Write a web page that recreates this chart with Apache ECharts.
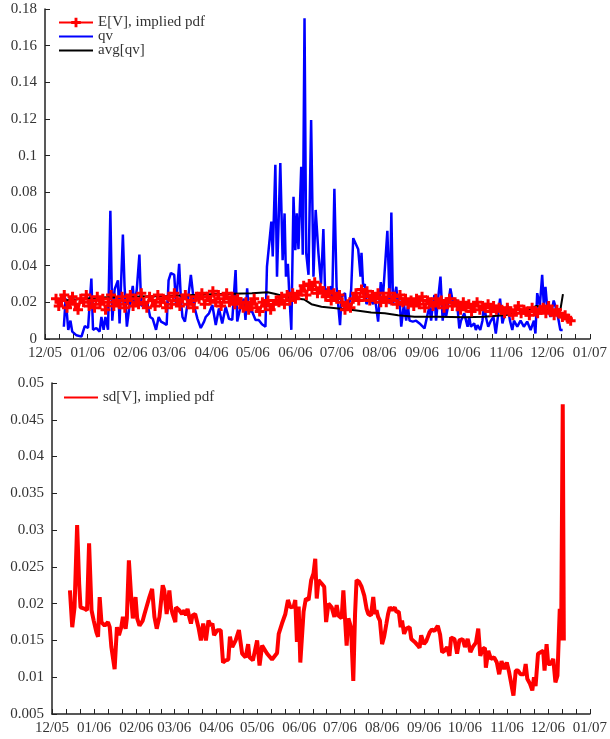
<!DOCTYPE html>
<html lang="en" style="height: 100%">
<head>
<meta charset="utf-8">
</head>
<body style="height: 100%; margin: 0; background: #fff">
<div id="container" style="width: 610px; height: 739px"></div>
<script src="https://cdn.jsdelivr.net/npm/echarts@6/dist/echarts.min.js"></script>
<script>
// x values are days counted from 2005-12-01
var monthLabels = ['12/05', '01/06', '02/06', '03/06', '04/06', '05/06', '06/06',
                   '07/06', '08/06', '09/06', '10/06', '11/06', '12/06', '01/07'];

// qv (blue) : [day, value]
var qv = [[13.7,.0067],[15.0,.022],[16.9,.005],[18.5,.010],[19.8,.004],[22.9,.002],[26.5,.0013],[28.9,.007],[31.3,.006],[33.7,.033],
  [34.9,.005],[37.3,.006],[39.7,.004],[41.0,.012],[42.6,.005],[43.9,.012],[45.8,.005],[47.5,.070],[48.9,.010],[50.6,.027],
  [53.0,.032],[54.2,.0085],[56.6,.057],[57.8,.029],[59.5,.0067],[61.4,.018],[63.8,.029],[65.0,.018],[66.7,.027],[68.6,.046],
  [69.9,.018],[71.5,.019],[73.0,.017],[74.6,.019],[76.4,.012],[78.3,.011],[80.7,.005],[82.6,.012],[84.3,.0095],[86.7,.0085],
  [88.4,.0076],[89.8,.032],[91.5,.036],[93.9,.035],[95.2,.019],[97.5,.041],[98.8,.021],[99.9,.012],[101.7,.0095],[103.5,.019],
  [106.0,.035],[107.2,.027],[108.4,.018],[110.8,.011],[113.2,.006],[115.6,.0095],[116.8,.012],[119.2,.014],[121.6,.0185],[124.1,.0076],
  [126.4,.0167],[128.8,.0085],[131.3,.0176],[133.7,.011],[136.1,.0104],[138.5,.0376],[139.7,.0095],[142.1,.0176],[144.5,.022],[145.7,.0104],
  [146.9,.0276],[148.1,.015],[150.5,.015],[153.0,.0104],[155.3,.0104],[157.7,.008],[160.2,.0067],[161.3,.0395],[164.5,.064],[165.5,.045],
  [167.4,.095],[168.6,.034],[171.0,.096],[172.7,.043],[174.1,.0685],[175.1,.034],[176.5,.041],[177.5,.025],[179.0,.005],[180.6,.0776],
  [181.9,.0485],[183.0,.0685],[184.2,.049],[186.2,.094],[187.3,.046],[188.6,.175],[189.8,.047],[191.5,.035],[193.4,.1195],[195.1,.034],
  [196.7,.0704],[198.7,.047],[200.6,.030],[202.3,.060],[203.5,.027],[205.9,.027],[207.9,.0285],[208.8,.023],[210.3,.082],[211.9,.0285],
  [214.4,.0076],[215.5,.023],[218.0,.025],[219.2,.016],[221.6,.021],[222.5,.027],[224.0,.055],[227.6,.049],[229.3,.034],[230.0,.047],
  [231.2,.0285],[232.4,.030],[233.6,.019],[236.1,.023],[238.4,.019],[239.7,.023],[242.1,.0095],[244.0,.031],[245.7,.024],[248.8,.059],
  [250.5,.019],[251.7,.069],[252.9,.019],[255.3,.0285],[256.5,.018],[257.7,.021],[258.9,.0067],[260.8,.019],[262.5,.010],[263.7,.0185],
  [264.9,.010],[267.3,.0095],[269.7,.010],[272.2,.0085],[275.8,.0058],[278.2,.014],[279.4,.0176],[280.6,.010],[281.8,.0185],[283.0,.024],
  [284.2,.010],[285.4,.020],[287.4,.034],[289.0,.010],[290.2,.020],[291.4,.012],[292.6,.0167],[294.6,.0276],[296.2,.021],[297.5,.020],
  [299.3,.021],[301.1,.0058],[302.3,.010],[303.5,.0095],[304.7,.014],[307.1,.0067],[308.3,.012],[309.5,.0067],[311.9,.0085],[313.1,.0049],
  [314.3,.0076],[316.3,.0049],[317.9,.010],[319.2,.0195],[320.4,.012],[322.1,.0067],[324.0,.010],[325.9,.012],[327.6,.003],[328.8,.010],
  [330.7,.022],[332.4,.0085],[333.6,.012],[336.0,.0185],[337.9,.010],[339.6,.0049],[340.8,.010],[343.2,.0067],[345.6,.010],[348.0,.0067],
  [350.4,.0095],[352.9,.0049],[355.3,.010],[356.4,.003],[357.7,.025],[359.6,.018],[361.3,.035],[362.5,.0185],[363.7,.0285],[364.9,.018],
  [367.3,.012],[369.7,.021],[371.6,.016],[373.3,.010],[374.5,.0049],[376.2,.0049]];

// avg[qv] (black) : [day, value]
var avgQv = [[13.0,.021],[39.7,.0227],[68.6,.0232],[90.3,.0235],[121.4,.0244],[150.3,.025],[161.8,.0255],[167.6,.0245],
  [174.9,.023],[184.2,.022],[188.6,.0215],[193.6,.019],[200.9,.0176],[213.2,.0167],[225.2,.0157],[237.0,.0145],[246.9,.014],
  [256.5,.013],[268.6,.0122],[285.4,.0122],[304.7,.0118],[319.2,.0122],[333.6,.013],[343.2,.014],[350.4,.0158],[357.2,.018],
  [361.3,.0173],[366.1,.0158],[370.9,.016],[374.5,.0158],[376.4,.0245]];

// E[V], implied pdf (red +) : one value every 2 days from day 8
var evStartDay = 8, evStepDays = 2;
var evVals = [
  .022,.018,.021,.024,.017,.020,.023,.019,.016,.022,.020,.024,.018,.021,.017,.023,.019,.022,.016,.020,.024,.018,.021,.019,.023,.017,
  .021,.024,.018,.022,.019,.025,.020,.017,.023,.021,.018,.024,.020,.022,.017,.023,.019,.025,.021,.018,.022,.024,.019,.021,.017,.023,
  .022,.025,.019,.023,.021,.026,.020,.024,.018,.022,.025,.020,.023,.019,.022,.020,
  .017,.020,.016,.019,.022,.017,.015,.020,.018,.021,.016,.019,.021,
  .020,.023,.019,.024,.021,.025,.022,.024,
  .026,.029,.024,.030,.027,.031,.025,.028,.026,
  .023,.026,.021,.025,.022,.024,.020,
  .016,.019,.017,
  .022,.025,.021,.027,.023,.026,.021,.024,.022,.025,.020,
  .023,.020,.025,.021,.023,.019,.024,.020,.022,.019,
  .021,.018,.022,.019,.023,.017,.021,.020,.018,.022,.019,.021,.017,.020,.022,.018,.020,
  .019,.016,.020,.017,.019,.015,.018,.020,.016,.018,.017,.019,.015,.018,.016,.017,
  .016,.014,.017,.015,.013,.016,.018,.014,.016,.015,.013,.017,.015,.014,.016,
  .017,.014,.018,.015,.013,.016,.014,.012,.013,.011,.010];

// sd[V], implied pdf (bottom) : [day, value]
var sdV = [[13.2,.0218],[14.9,.0168],[16.6,.0195],[18.5,.0307],[20.0,.0227],[21.0,.0195],[24.2,.0193],[25.8,.0191],[27.3,.0282],[29.1,.0191],
  [30.7,.0177],[32.7,.0161],[33.9,.0155],[35.1,.0209],[36.4,.0175],[38.8,.017],[41.2,.0175],[42.5,.0168],[43.7,.0141],[46.1,.0111],
  [47.8,.0168],[49.3,.0157],[51.0,.0168],[52.2,.0182],[54.2,.0166],[55.1,.018],[56.6,.0259],[58.3,.0209],[59.5,.018],[61.5,.0209],
  [62.7,.018],[64.4,.017],[66.8,.0177],[68.1,.0186],[69.3,.0184],[71.7,.0209],[73.7,.022],[75.4,.0182],[77.1,.0166],[79.1,.0182],
  [81.5,.0225],[82.7,.0218],[84.4,.0186],[86.4,.0218],[87.6,.0195],[88.8,.0186],[90.8,.0175],[91.3,.0195],[93.7,.0191],[95.7,.0186],
  [97.4,.0191],[98.6,.0184],[99.8,.0193],[101.0,.0182],[102.3,.0173],[103.4,.0184],[105.4,.0186],[107.8,.0168],[109.6,.015],[111.3,.0173],
  [113.3,.015],[115.2,.0177],[116.9,.017],[118.1,.0173],[119.3,.0157],[121.7,.0164],[124.2,.0164],[125.9,.012],[127.9,.0123],[129.8,.0124],
  [131.0,.0155],[132.7,.0141],[135.2,.015],[137.6,.0164],[138.9,.0166],[140.0,.0132],[142.5,.0127],[144.4,.0145],[145.4,.0127],[147.9,.0123],
  [151.0,.015],[152.8,.0116],[154.7,.0143],[158.4,.0132],[162.0,.0124],[165.7,.0133],[166.9,.0159],[169.3,.0173],[171.8,.0186],[173.7,.0205],
  [175.5,.0195],[177.9,.0196],[179.1,.0205],[180.3,.0148],[181.6,.0196],[182.8,.012],[185.2,.0189],[186.9,.0207],[188.9,.0205],[190.8,.0232],
  [192.5,.0241],[193.8,.0261],[194.9,.0207],[196.2,.0232],[198.6,.0227],[200.4,.0223],[201.8,.0175],[203.5,.020],[205.9,.0195],[207.9,.0182],
  [209.6,.0198],[210.8,.0184],[212.1,.0186],[213.2,.018],[214.5,.0218],[215.7,.018],[216.9,.0143],[218.2,.018],[220.1,.0168],[221.8,.0095],
  [223.1,.0186],[224.2,.0232],[226.0,.023],[227.9,.0223],[229.9,.0211],[231.6,.0193],[232.8,.0186],[234.8,.0184],[236.5,.0209],[237.7,.0186],
  [238.9,.0191],[240.1,.0182],[241.4,.0177],[243.0,.0145],[244.5,.0155],[246.2,.0173],[247.4,.0186],[248.7,.0195],[250.4,.0191],[252.3,.0195],
  [253.5,.0189],[255.3,.0189],[256.7,.0168],[257.7,.0177],[259.2,.0159],[260.8,.0166],[263.3,.0168],[264.5,.0152],[267.0,.0148],[269.4,.0143],
  [270.6,.014],[271.8,.0157],[273.8,.0145],[275.5,.0149],[278.0,.0161],[279.6,.0165],[281.6,.0163],[284.0,.017],[285.7,.0158],[287.2,.0134],
  [288.9,.0136],[290.9,.0141],[292.6,.0129],[293.8,.0154],[296.3,.0152],[298.2,.0132],[299.9,.015],[302.3,.0152],[304.0,.0141],[306.0,.0152],
  [308.0,.0134],[309.7,.0141],[312.1,.0147],[313.8,.0166],[315.3,.0129],[317.0,.0138],[318.7,.014],[319.4,.0113],[321.2,.0136],[323.1,.0125],
  [325.5,.0127],[327.5,.012],[329.2,.0104],[330.9,.0122],[332.9,.0111],[334.8,.012],[336.5,.0107],[337.7,.0095],[339.7,.0075],[341.4,.0109],
  [343.1,.0109],[345.0,.0104],[347.5,.0104],[348.7,.0118],[349.9,.0098],[351.9,.0091],[353.6,.0082],[354.8,.010],[356.0,.0088],[357.8,.0132],
  [359.7,.0134],[361.6,.0136],[362.6,.0109],[364.1,.0145],[365.3,.0118],[367.0,.0118],[369.0,.0125],[370.6,.0093],[372.1,.0102],[373.8,.0193],
  [374.8,.015],[376.0,.0471],[376.8,.015]];

// month starts and thirds of months, in days from 2005-12-01
var base = Date.UTC(2005, 11, 1);
var monthDays = monthLabels.map(function (_, i) {
    return (Date.UTC(2005, 11 + i, 1) - base) / 86400000;
});
var tickDays = [];
for (var i = 0; i < monthDays.length - 1; i++) {
    var len = monthDays[i + 1] - monthDays[i];
    tickDays.push(monthDays[i], monthDays[i] + len / 3, monthDays[i] + 2 * len / 3);
}
tickDays.push(monthDays[monthDays.length - 1]);

var evData = evVals.map(function (v, i) { return [evStartDay + i * evStepDays, v]; });

var FONT = 'Liberation Serif';
var AXIS_COLOR = '#222';
var TEXT_COLOR = '#333';
var PLUS = 'path://M0,3.5H10V6.5H0Z M3.5,0H6.5V10H3.5Z';

function xAxisFor(gridIndex) {
    return {
        type: 'value', gridIndex: gridIndex, min: 0, max: 396,
        splitLine: { show: false },
        axisLine: { onZero: false, lineStyle: { color: AXIS_COLOR, width: 1.5 } },
        axisTick: { inside: true, length: 5, customValues: tickDays, lineStyle: { color: AXIS_COLOR } },
        axisLabel: {
            customValues: monthDays,
            formatter: function (v) { return monthLabels[monthDays.indexOf(v)]; },
            color: TEXT_COLOR, fontFamily: FONT, fontSize: 15, margin: 7
        }
    };
}

function yAxisFor(gridIndex, min, max, interval) {
    return {
        type: 'value', gridIndex: gridIndex, min: min, max: max, interval: interval,
        splitLine: { show: false },
        axisLine: { show: true, onZero: false, lineStyle: { color: AXIS_COLOR, width: 1.5 } },
        axisTick: { show: true, inside: true, length: 5, lineStyle: { color: AXIS_COLOR } },
        axisLabel: { color: TEXT_COLOR, fontFamily: FONT, fontSize: 15, margin: 8 }
    };
}

var legendText = { fontFamily: FONT, fontSize: 15, color: TEXT_COLOR, lineHeight: 14 };
var noMarker = { opacity: 0 };

var myChart = echarts.init(document.getElementById('container'), null, { renderer: 'canvas' });
var option = {
    animation: false,
    backgroundColor: '#fff',
    grid: [
        { left: 45, right: 17, top: 9, height: 330 },
        { left: 52, right: 17, top: 383, height: 331 }
    ],
    legend: [
        {
            data: [
                { name: 'E[V], implied pdf' },
                { name: 'qv', itemStyle: noMarker },
                { name: 'avg[qv]', itemStyle: noMarker }
            ],
            orient: 'vertical', left: 58, top: 15, padding: 0,
            itemWidth: 34, itemHeight: 12, itemGap: -1,
            textStyle: legendText
        },
        {
            data: [{ name: 'sd[V], implied pdf', itemStyle: noMarker }],
            orient: 'vertical', left: 63, top: 390, padding: 0,
            itemWidth: 34, itemHeight: 12, itemGap: 0,
            textStyle: legendText
        }
    ],
    xAxis: [xAxisFor(0), xAxisFor(1)],
    yAxis: [yAxisFor(0, 0, 0.18, 0.02), yAxisFor(1, 0.005, 0.05, 0.005)],
    series: [
        {
            name: 'E[V], implied pdf', type: 'line', xAxisIndex: 0, yAxisIndex: 0,
            data: evData,
            symbol: PLUS, symbolSize: 10, showSymbol: true,
            lineStyle: { color: '#ff0000', width: 2.5 },
            itemStyle: { color: '#ff0000' }
        },
        {
            name: 'qv', type: 'line', xAxisIndex: 0, yAxisIndex: 0,
            data: qv, symbol: 'none',
            lineStyle: { color: '#0000ff', width: 2.5 },
            itemStyle: { color: '#0000ff' }
        },
        {
            name: 'avg[qv]', type: 'line', xAxisIndex: 0, yAxisIndex: 0,
            data: avgQv, symbol: 'none',
            lineStyle: { color: '#000000', width: 2 },
            itemStyle: { color: '#000000' }
        },
        {
            name: 'sd[V], implied pdf', type: 'line', xAxisIndex: 1, yAxisIndex: 1,
            data: sdV, symbol: 'none',
            lineStyle: { color: '#ff0000', width: 4 },
            itemStyle: { color: '#ff0000' }
        }
    ]
};
myChart.setOption(option);
window.addEventListener('resize', myChart.resize);
</script>
</body>
</html>
